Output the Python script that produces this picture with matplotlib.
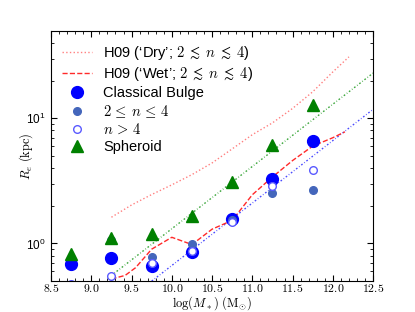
import matplotlib
matplotlib.use("Agg")
import matplotlib.pyplot as plt
from matplotlib.ticker import MultipleLocator, FuncFormatter, LogLocator, NullFormatter

plt.rcParams['mathtext.fontset'] = 'cm'
plt.rcParams['font.family'] = ['Liberation Sans', 'DejaVu Sans']

# mass bins
mass = [8.75, 9.25, 9.75, 10.25, 10.75, 11.25, 11.75]

# effective radii (kpc)
re_bulge = [0.69, 0.77, 0.66, 0.85, 1.57, 3.29, 6.57]
re_mid_n = [None, 1.07, 0.78, 0.99, 1.55, 2.51, 2.65]
re_high_n = [0.47, 0.553, 0.70, 0.87, 1.49, 2.89, 3.84]
re_spheroid = [0.82, 1.10, 1.18, 1.66, 3.09, 6.14, 12.9]

# H09 model curves
dry_mass = [9.25, 9.5, 9.75, 10.0, 10.25, 10.5, 10.75, 11.0, 11.25, 11.5, 11.75, 12.0, 12.2]
dry_re = [1.62, 2.03, 2.46, 2.94, 3.55, 4.4, 5.7, 7.4, 9.2, 12.0, 16.3, 23.5, 31.0]
wet_mass = [9.25, 9.42, 9.55, 9.75, 10.0, 10.25, 10.5, 10.75, 11.0, 11.25, 11.5, 11.75, 12.0, 12.15]
wet_re = [0.52, 0.555, 0.64, 0.9, 1.12, 0.98, 1.3, 1.53, 2.45, 3.4, 4.6, 6.0, 7.0, 7.8]

# fitted relations (end points)
fit_bulge_mass = [9.75, 12.5]
fit_bulge_re = [0.5, 11.8]
fit_sph_mass = [9.25, 12.5]
fit_sph_re = [0.555, 23.0]

fig = plt.figure(figsize=(4.15, 3.12), dpi=100)
ax = fig.add_axes([0.123, 0.099, 0.776, 0.802])

ax.plot(fit_bulge_mass, fit_bulge_re, color='#4a4aff', lw=1.0, dashes=(1.2, 1.5, 0.5, 1.5))
ax.plot(fit_sph_mass, fit_sph_re, color='#3aa63a', lw=1.0, dashes=(1.2, 1.5, 0.5, 1.5))

ax.plot(dry_mass, dry_re, color='#ff8080', lw=1.0, linestyle=':',
        label=u'H09 (\u2018Dry\u2019; $2\\;\\lesssim\\; n\\;\\lesssim\\; 4$)')
ax.plot(wet_mass, wet_re, color='#ff2a2a', lw=1.0, dashes=(3.7, 1.6),
        label=u'H09 (\u2018Wet\u2019; $2\\;\\lesssim\\; n\\;\\lesssim\\; 4$)')

ax.plot(mass, re_bulge, 'o', color='#0000ff', mec='#0000ff', ms=8.5, label='Classical Bulge')
mid_x = [m for m, r in zip(mass, re_mid_n) if r is not None]
mid_y = [r for r in re_mid_n if r is not None]
ax.plot(mid_x, mid_y, 'o', color='#4466bb', mec='#4466bb', ms=5.5,
        label=r'$2\,\leq\, n\,\leq\, 4$')
ax.plot(mass, re_high_n, 'o', mfc='white', mec='#5a5aff', mew=1.0, ms=5.5,
        label=r'$n\,>\,4$')
ax.plot(mass, re_spheroid, '^', color='#008000', mec='#008000', ms=8.5, label='Spheroid')

ax.set_yscale('log')
ax.set_xlim(8.5, 12.5)
ax.set_ylim(0.5, 50)

ax.xaxis.set_major_locator(MultipleLocator(0.5))
ax.xaxis.set_minor_locator(MultipleLocator(0.1))
ax.xaxis.set_major_formatter(FuncFormatter(lambda v, p: '$%.1f$' % v))
ax.yaxis.set_minor_locator(LogLocator(base=10, subs=range(2, 10)))
ax.yaxis.set_minor_formatter(NullFormatter())

ax.tick_params(which='both', direction='in', top=True, right=True, labelsize=8.5)
ax.tick_params(axis='x', pad=1)
ax.tick_params(axis='y', pad=4)
ax.tick_params(which='major', length=4)
ax.tick_params(which='minor', length=2)

ax.set_xlabel(r'$\log(M_*)\ (\mathrm{M}_{\odot})$', fontsize=9)
ax.xaxis.set_label_coords(0.5, -0.052)
ax.set_ylabel(r'$R_e\ \mathrm{(kpc)}$', fontsize=9)
ax.yaxis.set_label_coords(-0.05, 0.5)

ax.legend(loc='upper left', frameon=False, numpoints=1, fontsize=10.5,
          handlelength=2.0, handletextpad=0.8, labelspacing=0.2,
          borderaxespad=0.6, bbox_to_anchor=(-0.01, 1.005))

fig.savefig('out.png', dpi=100)
